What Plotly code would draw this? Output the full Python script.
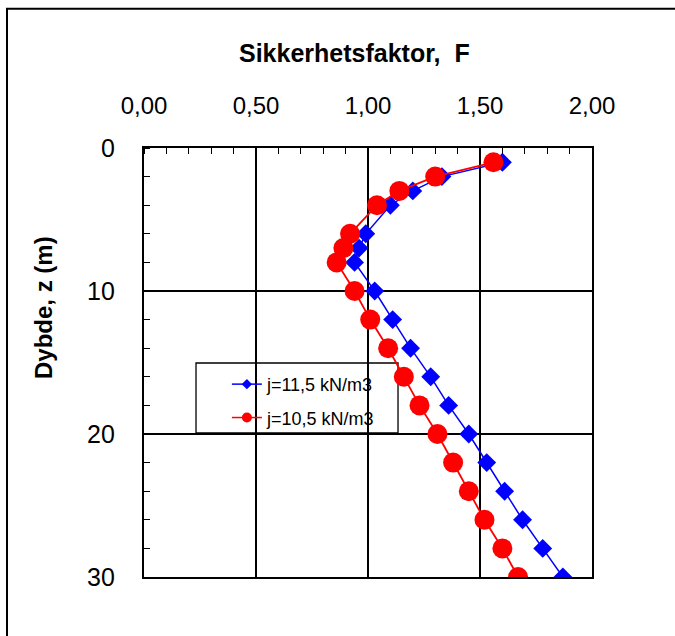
import plotly.graph_objects as go

# ---- data ----
depth_z = [1, 2, 3, 4, 6, 7, 8, 10, 12, 14, 16, 18, 20, 22, 24, 26, 28, 30]
F_gamma_115 = [1.60, 1.33, 1.20, 1.10, 0.99, 0.96, 0.94, 1.03, 1.11, 1.19,
               1.28, 1.36, 1.45, 1.53, 1.61, 1.69, 1.78, 1.87]
F_gamma_105 = [1.56, 1.30, 1.14, 1.04, 0.92, 0.89, 0.86, 0.94, 1.01, 1.09,
               1.16, 1.23, 1.31, 1.38, 1.45, 1.52, 1.60, 1.67]
series_names = ["j=11,5 kN/m3", "j=10,5 kN/m3"]
x_tickvals = [0, 0.5, 1.0, 1.5, 2.0]
x_ticktext = ["0,00", "0,50", "1,00", "1,50", "2,00"]
y_tickvals = [0, 10, 20, 30]
y_ticktext = ["0", "10", "20", "30"]

FONT = "Liberation Sans, Arial, sans-serif"

fig = go.Figure()

# main traces
fig.add_trace(go.Scatter(
    x=F_gamma_115, y=depth_z, mode="lines+markers", showlegend=False,
    line=dict(color="#0000FF", width=1.5),
    marker=dict(symbol="diamond", size=14.5, color="#0000FF"),
))
fig.add_trace(go.Scatter(
    x=F_gamma_105, y=depth_z, mode="lines+markers", showlegend=False,
    line=dict(color="#FF0000", width=1.8),
    marker=dict(symbol="circle", size=20, color="#FF0000"),
))
# legend entries (smaller symbols as in the reference)
fig.add_trace(go.Scatter(
    x=[None], y=[None], mode="lines+markers", name=series_names[0],
    legendgroup="a",
    line=dict(color="#0000FF", width=1.5),
    marker=dict(symbol="diamond", size=8, color="#0000FF"),
))
fig.add_trace(go.Scatter(
    x=[None], y=[None], mode="lines+markers", name=series_names[1],
    legendgroup="b",
    line=dict(color="#FF0000", width=1.5),
    marker=dict(symbol="circle", size=10, color="#FF0000"),
))

fig.update_layout(
    width=675, height=636,
    margin=dict(l=144, r=83, t=148, b=59),
    paper_bgcolor="white", plot_bgcolor="white",
    font=dict(family=FONT, color="black"),
    legend=dict(
        x=0.185, y=0.492, xanchor="left", yanchor="top",
        bgcolor="rgba(0,0,0,0)", borderwidth=0,
        font=dict(size=18, family=FONT),
        tracegroupgap=7, traceorder="grouped",
    ),
    xaxis=dict(
        side="top", range=[0, 2], tickvals=x_tickvals, ticktext=x_ticktext,
        showgrid=True, gridcolor="black", gridwidth=1.5,
        showline=True, linecolor="black", linewidth=2.2, mirror=True,
        ticks="", ticklabelstandoff=22,
        tickfont=dict(size=24, family=FONT),
        minor=dict(dtick=0.1, ticks="inside", ticklen=6, tickcolor="black",
                   tickwidth=1.2, showgrid=False),
        zeroline=False,
    ),
    yaxis=dict(
        range=[30, 0], tickvals=y_tickvals, ticktext=y_ticktext,
        showgrid=True, gridcolor="black", gridwidth=1.5,
        showline=True, linecolor="black", linewidth=2.2, mirror=True,
        ticks="", ticklabelstandoff=22,
        tickfont=dict(size=25, family=FONT),
        minor=dict(dtick=2, ticks="inside", ticklen=6, tickcolor="black",
                   tickwidth=1.2, showgrid=False),
        zeroline=False,
    ),
    annotations=[
        dict(text="<b>Sikkerhetsfaktor,  F</b>", xref="paper", yref="paper",
             x=0.469, y=1.222, showarrow=False, xanchor="center", yanchor="middle",
             font=dict(size=25, family=FONT)),
        dict(text="<b>Dybde, z (m)</b>", xref="paper", yref="paper",
             x=-0.2254, y=0.627, showarrow=False, textangle=-90,
             xanchor="center", yanchor="middle",
             font=dict(size=24, family=FONT)),
    ],
    shapes=[
        # outer chart border (only top/left edges visible in the window)
        dict(type="rect", xref="paper", yref="paper",
             x0=-0.3058, y0=-0.6, x1=1.6, y1=1.3245,
             line=dict(color="black", width=2), fillcolor="rgba(0,0,0,0)",
             layer="below"),
        # legend frame: white box above gridlines, below data
        dict(type="rect", xref="paper", yref="paper",
             x0=0.1161, y0=0.3357, x1=0.567, y1=0.4988,
             line=dict(color="black", width=1.3), fillcolor="white",
             layer="between"),
    ],
)

fig.write_html("out.html")
